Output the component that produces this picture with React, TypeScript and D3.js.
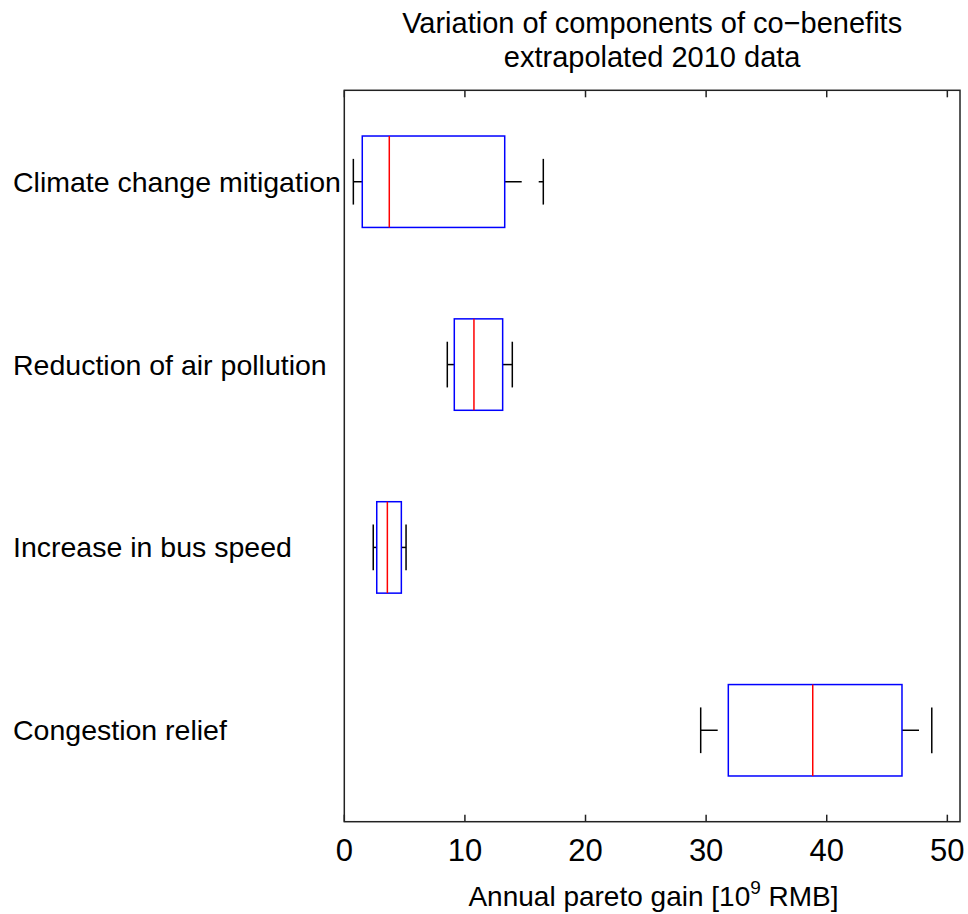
import { useEffect, useRef } from "react";
import * as d3 from "d3";

// categories, top to bottom
const categories = [
  "Climate change mitigation",
  "Reduction of air pollution",
  "Increase in bus speed",
  "Congestion relief",
];

// box statistics per category (10^9 RMB)
const lowerWhisker = [0.75, 8.54, 2.4, 29.55];
const q1 = [1.49, 9.12, 2.69, 31.84];
const median = [3.73, 10.75, 3.57, 38.84];
const q3 = [13.3, 13.13, 4.73, 46.24];
const upperWhisker = [16.5, 13.93, 5.12, 48.71];

const xTicks = [0, 10, 20, 30, 40, 50];

const titleLines = [
  "Variation of components of co\u2212benefits",
  "extrapolated 2010 data",
];

const W = 968, H = 914;
const FONT = "'Liberation Sans', Arial, Helvetica, sans-serif";

function App() {
  const ref = useRef<HTMLDivElement>(null);

  useEffect(() => {
    const margin = { top: 90.3, right: 8, bottom: 92.3, left: 344.3 };

    const svg = d3
      .select(ref.current)
      .html("")
      .append("svg")
      .attr("width", W)
      .attr("height", H)
      .style("display", "block")
      .style("background", "#fff");

    const x = d3
      .scaleLinear()
      .domain([0, 51.05])
      .range([margin.left, W - margin.right]);

    // MATLAB style: positions 1..n, limits 0.5..n+0.5, first category at top
    const n = categories.length;
    const y = d3
      .scaleLinear()
      .domain([n + 0.5, 0.5])
      .range([margin.top, H - margin.bottom]);
    const pos = (i: number) => y(n - i);
    const unit = Math.abs(y(1) - y(0));
    const boxH = unit * 0.5;
    const capH = unit * 0.25;

    const x0 = x.range()[0], x1 = x.range()[1];
    const y0 = y.range()[0], y1 = y.range()[1];

    // title
    svg
      .append("g")
      .selectAll("text")
      .data(titleLines)
      .enter()
      .append("text")
      .attr("x", (x0 + x1) / 2)
      .attr("y", (d, i) => 33 + i * 34)
      .attr("text-anchor", "middle")
      .attr("font-family", FONT)
      .attr("font-size", 29)
      .attr("fill", "#000")
      .text((d) => d);

    // boxes
    const g = svg.append("g");
    categories.forEach((c, i) => {
      const cy = pos(i);
      // whiskers (dashed)
      g.append("line")
        .attr("x1", x(lowerWhisker[i]))
        .attr("x2", x(q1[i]))
        .attr("y1", cy)
        .attr("y2", cy)
        .attr("stroke", "#000")
        .attr("stroke-width", 1.5)
        .attr("stroke-dasharray", "17,17");
      g.append("line")
        .attr("x1", x(q3[i]))
        .attr("x2", x(upperWhisker[i]))
        .attr("y1", cy)
        .attr("y2", cy)
        .attr("stroke", "#000")
        .attr("stroke-width", 1.5)
        .attr("stroke-dasharray", "17,17");
      // caps
      [lowerWhisker[i], upperWhisker[i]].forEach((v) => {
        g.append("line")
          .attr("x1", x(v))
          .attr("x2", x(v))
          .attr("y1", cy - capH / 2)
          .attr("y2", cy + capH / 2)
          .attr("stroke", "#000")
          .attr("stroke-width", 1.5);
      });
      // box
      g.append("rect")
        .attr("x", x(q1[i]))
        .attr("y", cy - boxH / 2)
        .attr("width", x(q3[i]) - x(q1[i]))
        .attr("height", boxH)
        .attr("fill", "none")
        .attr("stroke", "#0000ff")
        .attr("stroke-width", 1.5);
      // median
      g.append("line")
        .attr("x1", x(median[i]))
        .attr("x2", x(median[i]))
        .attr("y1", cy - boxH / 2)
        .attr("y2", cy + boxH / 2)
        .attr("stroke", "#ff0000")
        .attr("stroke-width", 1.5);
    });

    // category labels
    svg
      .append("g")
      .selectAll("text")
      .data(categories)
      .enter()
      .append("text")
      .attr("x", 13)
      .attr("y", (d, i) => pos(i) + 10)
      .attr("font-family", FONT)
      .attr("font-size", 28.5)
      .attr("fill", "#000")
      .text((d) => d);

    // axes frame
    svg
      .append("rect")
      .attr("x", x0)
      .attr("y", y0)
      .attr("width", x1 - x0)
      .attr("height", y1 - y0)
      .attr("fill", "none")
      .attr("stroke", "#222")
      .attr("stroke-width", 1.5);

    // inward ticks, top and bottom
    const ticks = svg.append("g").attr("stroke", "#222").attr("stroke-width", 1.5);
    xTicks.forEach((t) => {
      ticks.append("line").attr("x1", x(t)).attr("x2", x(t)).attr("y1", y1).attr("y2", y1 - 7);
      ticks.append("line").attr("x1", x(t)).attr("x2", x(t)).attr("y1", y0).attr("y2", y0 + 7);
    });

    svg
      .append("g")
      .selectAll("text")
      .data(xTicks)
      .enter()
      .append("text")
      .attr("x", (d) => x(d))
      .attr("y", 861)
      .attr("text-anchor", "middle")
      .attr("font-family", FONT)
      .attr("font-size", 31)
      .attr("fill", "#000")
      .text((d) => d);

    // x label
    const lab = svg
      .append("text")
      .attr("x", 653.5)
      .attr("y", 906)
      .attr("text-anchor", "middle")
      .attr("font-family", FONT)
      .attr("font-size", 28)
      .attr("fill", "#000");
    lab.append("tspan").text("Annual pareto gain [10");
    lab.append("tspan").attr("font-size", 19).attr("dy", -12).text("9");
    lab.append("tspan").attr("dy", 12).text(" RMB]");
  }, []);

  return <div ref={ref} style={{ position: "absolute", left: 0, top: 0 }}></div>;
}

export default App;
